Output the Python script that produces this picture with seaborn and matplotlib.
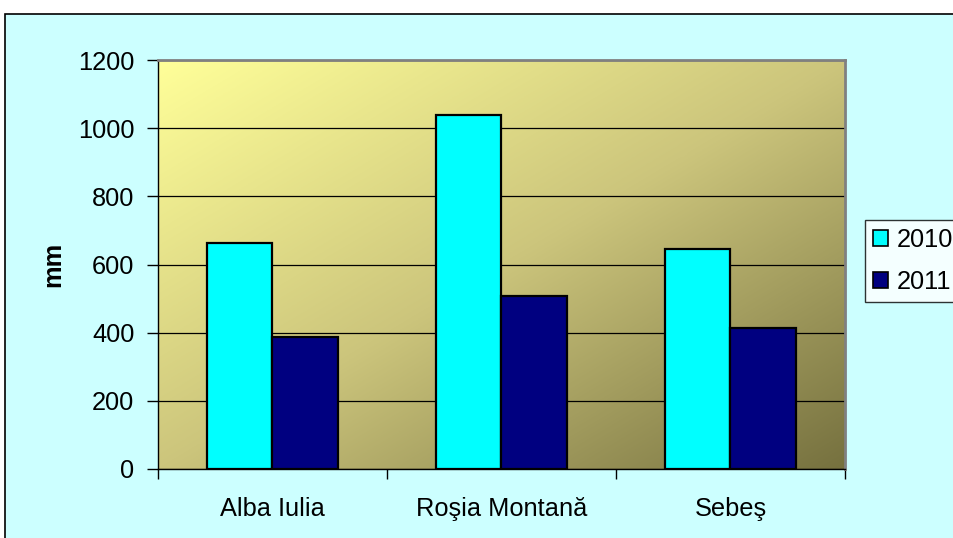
import numpy as np
import pandas as pd
import matplotlib
matplotlib.use("Agg")
import matplotlib.pyplot as plt
from matplotlib.patches import Rectangle
from matplotlib.colors import LinearSegmentedColormap
import seaborn as sns

# Annual precipitation (mm) by station
stations = ["Alba Iulia", "Roşia Montană", "Sebeş"]
years = ["2010", "2011"]
values_2010 = [664, 1040, 645]
values_2011 = [387, 507, 413]
y_ticks = [0, 200, 400, 600, 800, 1000, 1200]

df = pd.DataFrame({
    "station": stations * 2,
    "year": [years[0]] * 3 + [years[1]] * 3,
    "mm": values_2010 + values_2011,
})

sns.set_theme(style="white")
plt.rcParams["font.family"] = ["Liberation Sans", "DejaVu Sans"]
plt.rcParams["text.color"] = "black"
plt.rcParams["axes.labelcolor"] = "black"
plt.rcParams["xtick.color"] = "black"
plt.rcParams["ytick.color"] = "black"
FS = 18.3

fig = plt.figure(figsize=(9.54, 5.38), dpi=100)
fig.patch.set_facecolor("white")
# light cyan chart area with a thin black frame (runs past the right and bottom edges)
bg = Rectangle((5 / 954, -0.05), 1.1, 1 - 14 / 538 + 0.05,
               transform=fig.transFigure, facecolor="#CCFFFF",
               edgecolor="black", linewidth=1.2, zorder=-10)
fig.patches.append(bg)

ax = fig.add_axes([158 / 954, 1 - 469 / 538, (845 - 158) / 954, (469 - 60.2) / 538])
ax.set_facecolor("none")

# diagonal gradient plot background: pale yellow top-left to olive bottom-right
cmap = LinearSegmentedColormap.from_list("bg", ["#FFFF99", "#CCC57C", "#76713F"])
gx, gy = np.meshgrid(np.linspace(0, 1, 300), np.linspace(0, 1, 300))
grad = (gx + gy) / 2
ax.imshow(grad, cmap=cmap, extent=[0, 1, 0, 1], transform=ax.transAxes,
          aspect="auto", origin="upper", zorder=0, interpolation="bilinear")

sns.barplot(data=df, x="station", y="mm", hue="year",
            palette=["#00FFFF", "#000080"], saturation=1,
            edgecolor="black", linewidth=1.6,
            width=0.574, gap=0, ax=ax, zorder=3, legend=False)

ax.set_ylim(0, 1200)
ax.set_xlim(-0.5, 2.5)
ax.set_yticks(y_ticks)
ax.set_yticklabels([str(v) for v in y_ticks], fontsize=FS)
ax.yaxis.grid(True, color="black", linewidth=0.9)
for gl in ax.get_ygridlines():
    gl.set_zorder(1)

# category boundaries carry the tick marks, centers carry the names
ax.set_xticks([-0.5, 0.5, 1.5, 2.5])
ax.set_xticklabels([])
ax.set_xticks([0, 1, 2], minor=True)
ax.set_xticklabels(stations, minor=True, fontsize=FS)
ax.tick_params(axis="x", which="major", direction="out", length=7, width=1, color="black", bottom=True)
ax.tick_params(axis="x", which="minor", length=0, pad=20)
ax.tick_params(axis="y", direction="out", length=8, width=1, color="black", left=True, pad=9)

ax.set_xlabel("")
ax.set_ylabel("mm", fontsize=FS, fontweight="bold")
ax.yaxis.set_label_coords(-(158 - 65) / 687, 0.5)

for side in ("left", "bottom"):
    ax.spines[side].set_color("black")
    ax.spines[side].set_linewidth(1.0)
for side in ("top", "right"):
    ax.spines[side].set_color("#808080")
    ax.spines[side].set_linewidth(2.0)
for sp in ax.spines.values():
    sp.set_zorder(5)

handles = [Rectangle((0, 0), 1, 1, facecolor=c, edgecolor="black", linewidth=1.2)
           for c in ["#00FFFF", "#000080"]]
leg = fig.legend(handles, years, loc="upper left",
                 bbox_to_anchor=(865 / 954, 1 - 220 / 538),
                 fontsize=FS, frameon=True, fancybox=False, shadow=False,
                 handlelength=0.6, handleheight=0.58, handletextpad=0.35,
                 borderpad=0.3, labelspacing=0.72, borderaxespad=0)
leg.get_frame().set_edgecolor("black")
leg.get_frame().set_facecolor("white")
leg.get_frame().set_linewidth(1.0)

fig.savefig("out.png", dpi=100, facecolor=fig.get_facecolor())
